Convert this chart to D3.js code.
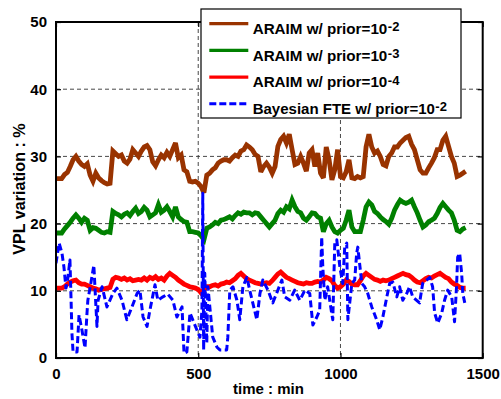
<!DOCTYPE html>
<html>
<head>
<meta charset="utf-8">
<script src="https://cdn.jsdelivr.net/npm/d3@7"></script>
<style>
  html, body { margin: 0; padding: 0; background: #fff; }
  svg { display: block; }
  text { font-family: "Liberation Sans", Arial, Helvetica, sans-serif; font-weight: bold; }
</style>
</head>
<body>
<svg id="chart" width="501" height="399"></svg>
<script>
// ---------------- DATA ----------------
const xTicks = [0, 500, 1000, 1500];
const yTicks = [0, 10, 20, 30, 40, 50];
const gridX = [500, 1000];
const gridY = [10, 20, 30, 40];

// 10-minute samples, t = 0 .. 1440 min
const sampleTimes = d3.range(0, 1441, 10);

const araim2 = [
  26.7, 26.7, 26.7, 27.3, 27.6, 28.5, 29.5, 30.0, 29.3, 28.8,
  28.5, 28.9, 27.2, 26.3, 27.5, 26.8, 26.4, 26.1, 25.9, 26.0,
  30.8, 30.4, 30.0, 30.2, 29.3, 29.0, 29.6, 31.0, 30.5, 30.0,
  30.8, 31.4, 31.6, 31.0, 29.2, 28.6, 29.5, 30.2, 29.8, 30.6,
  30.0, 31.0, 32.0, 29.8, 30.2, 28.0, 27.7, 26.3, 26.2, 26.3,
  26.0, 25.5, 24.6, 27.2, 27.5, 28.0, 28.3, 29.0, 29.3, 29.5,
  29.5, 29.3, 29.8, 30.2, 30.0, 30.8, 31.0, 31.7, 31.4, 31.0,
  30.3, 30.0, 27.7, 28.5, 29.0, 28.4, 27.5, 28.5, 31.5, 32.5,
  33.0, 32.0, 33.3, 31.0, 28.8, 29.0, 30.0, 29.0, 27.8, 30.5,
  31.0, 28.5, 30.5, 27.5, 26.8, 31.4, 29.5, 26.5, 28.0, 31.0,
  27.0, 26.8, 27.7, 29.5, 26.8, 26.7, 27.0, 26.8, 27.0, 31.4,
  33.3, 31.4, 30.5, 30.8, 30.0, 28.8, 28.6, 30.0, 30.5, 31.4,
  31.4, 32.0, 32.4, 32.8, 33.0, 31.8, 31.0, 29.5, 28.0, 27.5,
  27.5, 28.3, 29.0, 29.8, 31.0, 31.0, 32.4, 33.0, 31.5, 30.0,
  29.0, 27.0, 27.2, 27.5, 27.8
];

const araim3 = [
  18.6, 18.6, 18.6, 19.2, 19.7, 20.2, 20.8, 21.3, 20.8, 20.2,
  20.8, 20.5, 19.0, 19.4, 19.3, 19.0, 18.7, 18.6, 18.8, 18.7,
  21.8, 21.5, 21.3, 21.0, 21.4, 21.6, 21.2, 21.8, 22.3, 21.5,
  21.8, 22.4, 22.0, 21.0, 21.3, 21.6, 22.8, 21.7, 22.0, 22.5,
  21.8, 21.0, 22.5, 21.0, 20.6, 20.3, 20.2, 18.8, 18.8, 18.7,
  18.6, 18.2, 17.6, 19.3, 19.5, 19.8, 20.2, 20.0, 20.5, 20.6,
  20.8, 21.0, 20.7, 21.2, 21.6, 21.4, 21.7, 21.6, 21.6, 21.3,
  21.6, 21.5, 21.0, 20.5, 20.0, 19.5, 20.0, 20.5, 21.5, 22.0,
  21.7, 22.5, 22.2, 23.5, 22.5, 21.8, 21.6, 20.8, 20.5, 21.0,
  21.6, 21.5, 21.0, 20.8, 18.8, 20.0, 20.5, 19.5, 18.8, 18.6,
  19.0, 19.3, 20.5, 22.0, 19.5, 18.8, 18.8, 18.8, 20.5, 22.5,
  23.2, 22.8, 21.8, 21.5, 21.0, 20.6, 20.3, 19.9, 20.8, 22.0,
  22.8, 23.5, 23.2, 23.0, 23.2, 23.5, 22.5, 21.6, 20.5, 19.5,
  19.8, 20.3, 20.5, 20.8, 21.5, 22.4, 23.0, 22.5, 22.0, 21.6,
  20.5, 19.0, 18.8, 19.2, 19.4
];

const araim4 = [
  10.4, 10.4, 10.4, 10.6, 11.0, 11.3, 11.5, 11.6, 11.2, 11.0,
  11.0, 10.8, 10.6, 10.4, 10.3, 10.1, 10.2, 10.3, 10.4, 10.5,
  11.7, 12.0, 11.9, 11.7, 11.9, 11.6, 11.8, 11.5, 11.6, 11.7,
  11.6, 11.9, 11.6, 12.0, 11.8, 12.1, 11.7, 11.9, 11.6, 12.2,
  12.6, 12.3, 12.0, 11.6, 11.3, 11.0, 10.8, 10.6, 10.5, 10.4,
  10.2, 9.7, 10.2, 10.6, 10.6, 10.8, 10.9, 10.7, 11.0, 11.1,
  11.3, 11.2, 11.5, 11.8, 12.3, 12.6, 12.2, 11.8, 11.6, 11.4,
  11.2, 11.1, 11.0, 11.1, 11.2, 11.1, 11.5, 12.0, 12.5, 12.8,
  12.4, 12.0, 11.8, 11.6, 11.4, 11.2, 11.1, 11.0, 11.2, 11.1,
  11.1, 11.3, 11.4, 11.3, 11.6, 12.0, 11.8, 11.5, 10.8, 10.4,
  10.6, 11.0, 11.6, 11.4, 11.0, 10.9, 10.9, 11.5, 12.2, 12.6,
  12.3, 12.0, 11.7, 11.6, 11.4, 11.6, 11.5, 11.6, 11.8, 12.0,
  12.2, 12.4, 12.6, 12.4, 12.3, 12.0, 11.6, 11.3, 11.2, 11.5,
  11.8, 12.0, 11.9, 12.2, 12.4, 12.6, 12.3, 12.0, 11.8, 11.3,
  11.0, 10.8, 10.5, 10.4, 10.4
];

// Bayesian FTE: irregular sample times (min) and values (%)
const bayesTimes = [
  0, 11, 21, 28, 35, 42, 49, 53, 56, 60, 74, 81, 91, 102, 109, 112, 126, 133, 144, 148,
  162, 179, 200, 214, 232, 249, 267, 285, 295, 306, 320, 330, 348, 358, 376, 393, 411, 425, 443, 450,
  460, 471, 495, 506, 513, 516, 519, 523, 530, 534, 551, 566, 576, 600, 604, 611, 622, 636, 646, 657,
  671, 681, 706, 717, 727, 745, 762, 780, 794, 804, 822, 839, 857, 875, 892, 903, 917, 927, 934, 938,
  945, 955, 969, 973, 980, 987, 998, 1008, 1015, 1022, 1026, 1040, 1050, 1057, 1061, 1075, 1085, 1096, 1110, 1127,
  1138, 1149, 1163, 1173, 1184, 1198, 1208, 1219, 1233, 1243, 1254, 1278, 1289, 1303, 1314, 1324, 1331, 1342, 1356, 1366,
  1377, 1391, 1401, 1408, 1412, 1419, 1426, 1430, 1437
];
const bayes2 = [
  14.1, 17.1, 15.6, 13.5, 10.4, 12.0, 14.6, 8.6, 3.7, 0.9, 0.9, 6.4, 4.2, 1.5, 6.7, 8.6, 12.0, 13.8, 4.7, 8.6,
  10.6, 7.6, 9.6, 10.4, 8.6, 5.7, 7.6, 9.6, 10.1, 6.1, 4.7, 7.1, 10.9, 8.6, 9.1, 9.5, 8.6, 6.1, 7.6, 0.7,
  0.9, 6.7, 4.2, 3.1, 7.1, 24.5, 1.2, 12.6, 2.2, 10.6, 3.1, 1.6, 1.2, 1.2, 3.1, 10.1, 10.6, 8.6, 5.7, 10.6,
  12.0, 10.1, 5.7, 9.6, 11.6, 10.1, 8.2, 10.1, 11.6, 9.1, 8.6, 10.1, 8.6, 10.1, 9.6, 4.9, 6.1, 7.1, 18.0, 13.5,
  8.6, 10.6, 6.7, 5.7, 17.1, 17.6, 13.5, 11.1, 16.5, 17.1, 5.7, 11.1, 11.6, 15.6, 16.5, 11.1, 10.6, 9.6, 7.6, 5.7,
  4.2, 6.1, 9.1, 11.1, 11.3, 9.1, 10.6, 8.6, 9.6, 10.6, 9.1, 8.2, 11.1, 11.6, 12.0, 10.6, 6.7, 5.2, 6.7, 8.6,
  10.1, 9.1, 5.4, 10.6, 15.0, 15.6, 12.6, 9.6, 8.2
];

const seriesNames = [
  "ARAIM w/ prior=10", "ARAIM w/ prior=10", "ARAIM w/ prior=10", "Bayesian FTE w/ prior=10"
];
const seriesExp = ["-2", "-3", "-4", "-2"];
const seriesColors = ["#993300", "#008000", "#ff0000", "#0000ff"];

// ---------------- DRAW ----------------
const svg = d3.select("#chart");
const L = 56, R = 482.7, T = 22, B = 358;
const x = d3.scaleLinear().domain([0, 1500]).range([L, R]);
const y = d3.scaleLinear().domain([0, 50]).range([B, T]);

function fitWidth(sel, target) {
  const w = sel.node().getComputedTextLength();
  const fs = parseFloat(sel.style("font-size"));
  if (w > 0) sel.style("font-size", (fs * target / w) + "px");
}

// grid
const grid = svg.append("g").attr("stroke", "#333").attr("stroke-width", 0.9)
  .attr("stroke-dasharray", "4,3");
gridY.forEach(v => grid.append("line").attr("x1", L).attr("x2", R).attr("y1", y(v)).attr("y2", y(v)));
gridX.forEach(v => grid.append("line").attr("y1", T).attr("y2", B).attr("x1", x(v)).attr("x2", x(v)));

svg.append("defs").append("clipPath").attr("id", "plotclip")
  .append("rect").attr("x", L).attr("y", T - 3).attr("width", R - L).attr("height", B - T + 3);

const line = d3.line().x(d => x(d[0])).y(d => y(d[1]));
const plot = svg.append("g").attr("clip-path", "url(#plotclip)");

const solid = [araim2, araim3, araim4];
solid.forEach((vals, i) => {
  plot.append("path")
    .datum(sampleTimes.map((t, k) => [t, vals[k]]))
    .attr("d", line)
    .attr("fill", "none")
    .attr("stroke", seriesColors[i])
    .attr("stroke-width", 4.8)
    .attr("stroke-linejoin", "miter")
    .attr("stroke-miterlimit", 3);
});
plot.append("path")
  .datum(bayesTimes.map((t, k) => [t, bayes2[k]]))
  .attr("d", line)
  .attr("fill", "none")
  .attr("stroke", seriesColors[3])
  .attr("stroke-width", 3)
  .attr("stroke-dasharray", "7,3.5")
  .attr("stroke-linejoin", "round");

// axes box
svg.append("rect").attr("x", L).attr("y", T).attr("width", R - L).attr("height", B - T)
  .attr("fill", "none").attr("stroke", "#000").attr("stroke-width", 2);

const xAxisB = d3.axisBottom(x).tickValues(xTicks).tickSize(-5).tickPadding(10).tickFormat(d3.format("d"));
const xAxisT = d3.axisTop(x).tickValues(xTicks).tickSize(-5).tickFormat("");
const yAxisL = d3.axisLeft(y).tickValues(yTicks).tickSize(-5).tickPadding(9).tickFormat(d3.format("d"));
const yAxisR = d3.axisRight(y).tickValues(yTicks).tickSize(-5).tickFormat("");

function styleAxis(g) {
  g.select(".domain").remove();
  g.selectAll(".tick line").attr("stroke", "#000").attr("stroke-width", 1.2);
  g.selectAll(".tick text").attr("fill", "#000")
    .style("font-size", "15px").style("font-weight", "bold")
    .style("font-family", '"Liberation Sans", Arial, sans-serif');
}
svg.append("g").attr("transform", `translate(0,${B})`).call(xAxisB).call(styleAxis);
svg.append("g").attr("transform", `translate(0,${T})`).call(xAxisT).call(styleAxis);
svg.append("g").attr("transform", `translate(${L},0)`).call(yAxisL).call(styleAxis);
svg.append("g").attr("transform", `translate(${R},0)`).call(yAxisR).call(styleAxis);

// axis labels
const xl = svg.append("text").attr("x", 268.5).attr("y", 393.5).attr("text-anchor", "middle")
  .style("font-size", "15px").text("time : min");
fitWidth(xl, 71);
const yl = svg.append("text").attr("transform", `translate(25,189) rotate(-90)`)
  .attr("text-anchor", "middle").style("font-size", "15px").text("VPL variation : %");
fitWidth(yl, 131.5);

// legend
const lg = svg.append("g");
lg.append("rect").attr("x", 201).attr("y", 9).attr("width", 260).attr("height", 109)
  .attr("fill", "#fff").attr("stroke", "#000").attr("stroke-width", 1.2);
const legendTargets = [134.7, 134.7, 134.7, 182.3];
seriesNames.forEach((name, i) => {
  const ly = 23.7 + i * 26.7;
  lg.append("line").attr("x1", 209.3).attr("x2", 248.3).attr("y1", ly).attr("y2", ly)
    .attr("stroke", seriesColors[i]).attr("stroke-width", i === 3 ? 3 : 3.2)
    .attr("stroke-dasharray", i === 3 ? "7,3" : null);
  const t = lg.append("text").attr("x", 252.7).attr("y", ly + 10.3)
    .style("font-size", "15px").attr("fill", "#000").text(name);
  fitWidth(t, legendTargets[i]);
  const w = t.node().getComputedTextLength();
  lg.append("text").attr("x", 252.7 + w + 0.5).attr("y", ly + 7.4)
    .style("font-size", "13px").attr("fill", "#000").text(seriesExp[i]);
});
</script>
</body>
</html>
